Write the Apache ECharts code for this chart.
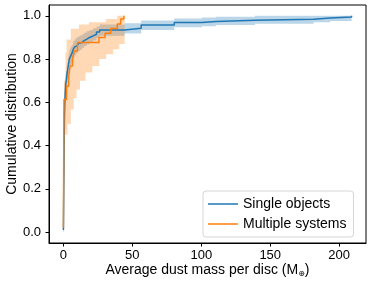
<!DOCTYPE html>
<html>
<head>
<meta charset="utf-8">
<script src="https://cdn.jsdelivr.net/npm/echarts@6/dist/echarts.min.js"></script>
<style>
html,body{margin:0;padding:0;background:#fff;}
#c{width:374px;height:287px;}
</style>
</head>
<body>
<div id="c"></div>
<script>
// ---- Data ----
const seriesNames = ['Single objects', 'Multiple systems'];

// Single objects: step CDF
const blueX  = [0, 0.2, 0.4, 0.6, 0.8, 1.0, 1.3, 1.6, 2.0, 2.4, 2.8, 3.3, 3.8, 4.3, 5.0, 5.7, 6.4, 7.1, 8.0, 9.0, 10.0, 11.0, 12.0, 13.5, 15.0, 17.0, 19.0, 21.5, 24.0, 26.3, 44.4, 56.4, 80.4, 100.4, 110.5, 138.9, 181.5, 193.5, 209.0];
const blueY  = [0.01, 0.15, 0.30, 0.45, 0.55, 0.60, 0.64, 0.68, 0.70, 0.72, 0.74, 0.76, 0.78, 0.80, 0.81, 0.82, 0.83, 0.845, 0.855, 0.862, 0.868, 0.873, 0.877, 0.885, 0.892, 0.90, 0.907, 0.915, 0.925, 0.935, 0.943, 0.958, 0.969, 0.974, 0.979, 0.984, 0.99, 0.995, 1.0];
const blueLo = [0.0, 0.08, 0.22, 0.37, 0.48, 0.54, 0.59, 0.63, 0.655, 0.675, 0.695, 0.715, 0.735, 0.755, 0.768, 0.78, 0.79, 0.806, 0.817, 0.825, 0.832, 0.838, 0.843, 0.852, 0.86, 0.869, 0.877, 0.886, 0.897, 0.908, 0.918, 0.935, 0.947, 0.952, 0.958, 0.963, 0.97, 0.976, 0.976];
const blueHi = [0.03, 0.22, 0.38, 0.52, 0.62, 0.66, 0.69, 0.73, 0.745, 0.765, 0.785, 0.805, 0.825, 0.843, 0.852, 0.86, 0.868, 0.882, 0.891, 0.897, 0.902, 0.906, 0.909, 0.915, 0.922, 0.929, 0.935, 0.942, 0.951, 0.96, 0.966, 0.978, 0.988, 0.992, 0.996, 1.0, 1.0, 1.0, 1.0];
const blueEnd = 209.0;

// Multiple systems: step CDF
const orangeX = [0, 0.4, 2.3, 3.8, 4.9, 6.6, 7.8, 10.2, 25.8, 30.2, 34.3, 39.1, 41.5, 43.9];
const orangeY = [0.02, 0.613, 0.675, 0.72, 0.768, 0.80, 0.837, 0.877, 0.90, 0.92, 0.941, 0.962, 0.985, 1.0];
const orangeEnd = 44.4;
// confidence band edges (own step points)
const orangeLoX = [0, 0.4, 3.0, 5.4, 7.5, 9.5, 12.0, 16.0, 21.0, 26.0, 31.0, 36.0, 40.5];
const orangeLoY = [0.0, 0.45, 0.50, 0.567, 0.62, 0.66, 0.70, 0.738, 0.768, 0.80, 0.822, 0.845, 0.87];
const orangeHiX = [0, 0.4, 1.5, 2.3, 5.4, 11.3, 18.5, 30.7, 39.0];
const orangeHiY = [0.1, 0.70, 0.83, 0.89, 0.94, 0.96, 0.97, 0.985, 1.0];

// Axis ticks
const xTicks = [0, 50, 100, 150, 200];
const yTicks = [0, 0.2, 0.4, 0.6, 0.8, 1.0];

// ---- Helpers ----
function pairs(xs, ys) { return xs.map((x, i) => [x, ys[i]]); }
function withEnd(xs, ys, xEnd) {
  const p = pairs(xs, ys);
  p.push([xEnd, ys[ys.length - 1]]);
  return p;
}
function stepPts(xs, ys, xEnd) {
  const pts = [];
  for (let i = 0; i < xs.length; i++) {
    const nx = i + 1 < xs.length ? xs[i + 1] : xEnd;
    pts.push([xs[i], ys[i]]);
    pts.push([nx, ys[i]]);
  }
  return pts;
}
function bandSeries(hiX, hiY, loX, loY, xEnd, color) {
  const poly = stepPts(hiX, hiY, xEnd).concat(stepPts(loX, loY, xEnd).reverse());
  return {
    type: 'custom',
    data: [[0, 0]],
    z: 1,
    silent: true,
    renderItem: function (params, api) {
      return {
        type: 'polygon',
        shape: { points: poly.map(p => api.coord(p)) },
        style: { fill: color }
      };
    }
  };
}

const FONT = '"Liberation Sans", Arial, sans-serif';
const chart = echarts.init(document.getElementById('c'), null, { renderer: 'canvas' });

chart.setOption({
  animation: false,
  backgroundColor: '#fff',
  grid: {
    left: 49, right: 8, top: 5, bottom: 44,
    show: true, borderColor: '#000', borderWidth: 1,
    containLabel: false, outerBoundsMode: 'none'
  },
  legend: {
    data: seriesNames,
    orient: 'vertical',
    left: 203, top: 191,
    icon: 'rect',
    itemWidth: 30, itemHeight: 1.5, itemGap: 6, itemTextGap: 11,
    padding: [6, 7, 6, 5],
    backgroundColor: '#fff',
    borderColor: '#d5d5d5', borderWidth: 1, borderRadius: 3,
    textStyle: { fontFamily: FONT, fontSize: 14, color: '#000', lineHeight: 14 }
  },
  xAxis: {
    type: 'value',
    min: -10.45, max: 219.45,
    name: 'Average dust mass per disc (M{s|⊕})',
    nameLocation: 'middle',
    nameGap: 20,
    nameMoveOverlap: false,
    nameTextStyle: {
      fontFamily: FONT, fontSize: 14, color: '#000', verticalAlign: 'top',
      rich: { s: { fontFamily: 'DejaVu Sans', fontSize: 8, padding: [7, 0, 0, 0], color: '#000' } }
    },
    axisLine: { show: true, onZero: false, lineStyle: { color: '#000', width: 1 } },
    axisTick: { show: true, inside: false, length: 3.5, customValues: xTicks, lineStyle: { color: '#000' } },
    axisLabel: { customValues: xTicks, margin: 6, fontFamily: FONT, fontSize: 13, color: '#000' },
    splitLine: { show: false }
  },
  yAxis: {
    type: 'value',
    min: -0.05, max: 1.05,
    name: 'Cumulative distribution',
    nameLocation: 'middle',
    nameGap: 30,
    nameMoveOverlap: false,
    nameTextStyle: { fontFamily: FONT, fontSize: 14, color: '#000' },
    axisLine: { show: true, onZero: false, lineStyle: { color: '#000', width: 1 } },
    axisTick: { show: true, inside: false, length: 3.5, customValues: yTicks, lineStyle: { color: '#000' } },
    axisLabel: { customValues: yTicks, margin: 8, fontFamily: FONT, fontSize: 13, color: '#000',
      formatter: v => v.toFixed(1) },
    splitLine: { show: false }
  },
  series: [
    bandSeries(blueX, blueHi, blueX, blueLo, blueEnd, 'rgba(31,119,180,0.3)'),
    bandSeries(orangeHiX, orangeHiY, orangeLoX, orangeLoY, orangeEnd, 'rgba(255,127,14,0.3)'),
    {
      name: seriesNames[0], type: 'line', step: 'end', z: 3,
      data: withEnd(blueX, blueY, blueEnd),
      symbol: 'none', lineStyle: { color: '#1f77b4', width: 1.5 }, itemStyle: { color: '#1f77b4' }
    },
    {
      name: seriesNames[1], type: 'line', step: 'end', z: 4,
      data: withEnd(orangeX, orangeY, orangeEnd),
      symbol: 'none', lineStyle: { color: '#ff7f0e', width: 1.5 }, itemStyle: { color: '#ff7f0e' }
    }
  ]
});
</script>
</body>
</html>
